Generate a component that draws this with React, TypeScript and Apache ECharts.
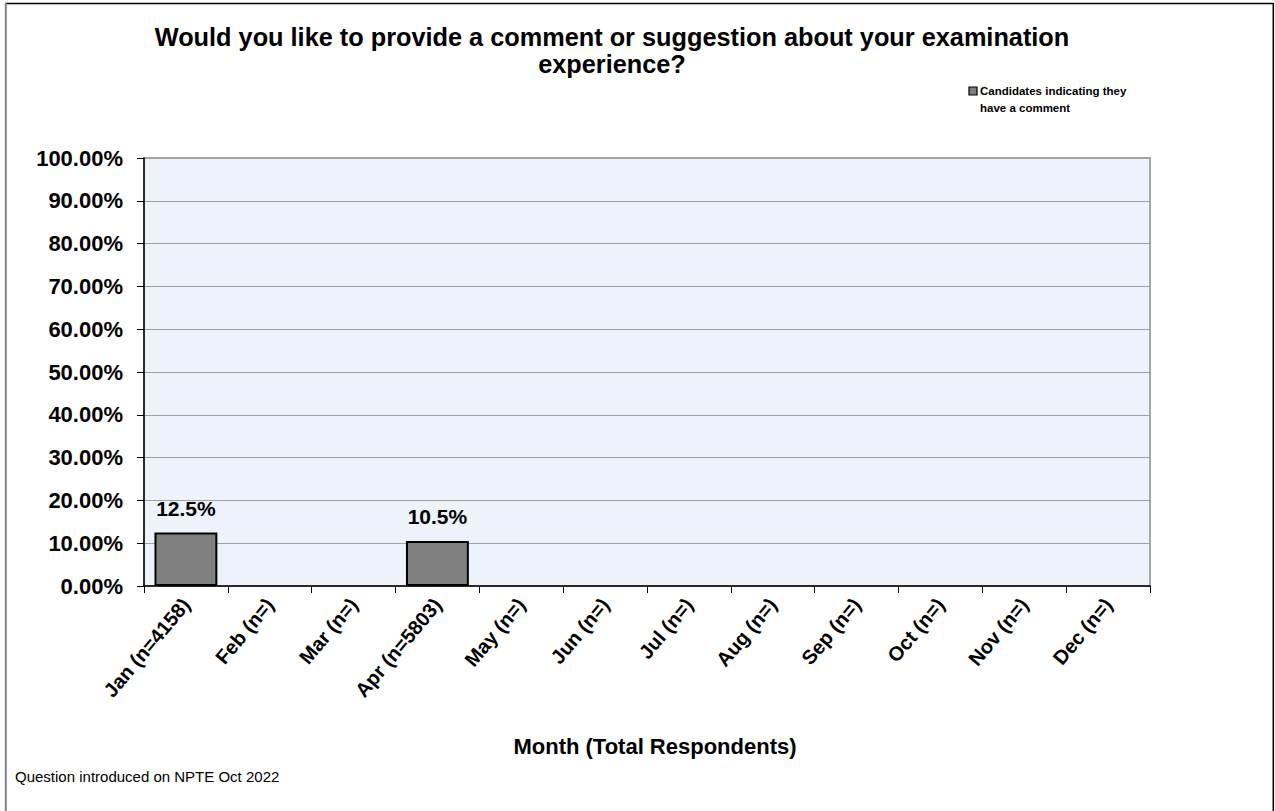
import React, { useEffect, useRef } from "react";
import * as echarts from "echarts";

const TITLE_LINES = [
  "Would you like to provide a comment or suggestion about your examination",
  "experience?",
];
const SERIES_NAME_LINES = ["Candidates indicating they", "have a comment"];
const CATEGORIES = [
  "Jan (n=4158)",
  "Feb (n=)",
  "Mar (n=)",
  "Apr (n=5803)",
  "May (n=)",
  "Jun (n=)",
  "Jul (n=)",
  "Aug (n=)",
  "Sep (n=)",
  "Oct (n=)",
  "Nov (n=)",
  "Dec (n=)",
];
const VALUES: (number | null)[] = [0.125, null, null, 0.105, null, null, null, null, null, null, null, null];
const Y_MIN = 0;
const Y_MAX = 1;
const Y_STEP = 0.1;
const X_AXIS_NAME = "Month (Total Respondents)";
const FOOTNOTE = "Question introduced on NPTE Oct 2022";

const FONT = "'Liberation Sans', Arial, Helvetica, sans-serif";

export default function App() {
  const ref = useRef<HTMLDivElement>(null);
  useEffect(() => {
    if (!ref.current) return;
    const chart = echarts.init(ref.current, undefined, { renderer: "svg" });
    chart.setOption({
      animation: false,
      backgroundColor: "#ffffff",
      textStyle: { fontFamily: FONT },
      grid: {
        left: 144,
        right: 125,
        top: 158,
        bottom: 225,
        show: true,
        backgroundColor: "#EEF2FA",
        borderColor: "#A6A6A6",
        borderWidth: 2,
      },
      xAxis: {
        type: "category",
        data: CATEGORIES,
        boundaryGap: true,
        name: X_AXIS_NAME,
        nameLocation: "middle",
        nameGap: 149,
        nameTextStyle: {
          fontFamily: FONT,
          fontWeight: "bold",
          fontSize: 22,
          color: "#000",
          padding: [0, 0, 0, 16],
        },
        axisLine: { show: true, lineStyle: { color: "#000", width: 1.5 } },
        axisTick: { show: true, length: 7, alignWithLabel: false, lineStyle: { color: "#000", width: 1 } },
        axisLabel: {
          rotate: 50,
          interval: 0,
          margin: 15,
          fontFamily: FONT,
          fontWeight: "bold",
          fontSize: 20,
          color: "#000",
        },
        splitLine: { show: false },
      },
      yAxis: {
        type: "value",
        min: Y_MIN,
        max: Y_MAX,
        interval: Y_STEP,
        axisLine: { show: true, lineStyle: { color: "#000", width: 1.5 } },
        axisTick: { show: true, length: 7, lineStyle: { color: "#000", width: 1 } },
        axisLabel: {
          margin: 21,
          fontFamily: FONT,
          fontWeight: "bold",
          fontSize: 22,
          color: "#000",
          formatter: (v: number) => (v * 100).toFixed(2) + "%",
        },
        splitLine: { show: true, lineStyle: { color: "#A0A0A0", width: 1 } },
      },
      series: [
        {
          type: "bar",
          name: SERIES_NAME_LINES.join(" "),
          data: VALUES,
          barWidth: "75%",
          itemStyle: { color: "#808080", borderColor: "#000", borderWidth: 2 },
          label: {
            show: true,
            position: "top",
            distance: 14,
            fontFamily: FONT,
            fontWeight: "bold",
            fontSize: 21,
            color: "#000",
            formatter: (p: any) => (p.value == null ? "" : (p.value * 100).toFixed(1) + "%"),
          },
        },
      ],
      graphic: [
        { type: "line", shape: { x1: 5, y1: 3.5, x2: 1273.5, y2: 3.5 }, style: { stroke: "#000", lineWidth: 1.3 } },
        { type: "line", shape: { x1: 5.8, y1: 3, x2: 5.8, y2: 811 }, style: { stroke: "#808080", lineWidth: 2 } },
        { type: "line", shape: { x1: 1273.3, y1: 3, x2: 1273.3, y2: 811 }, style: { stroke: "#000", lineWidth: 1.5 } },
        {
          type: "text",
          x: 612,
          y: 37,
          style: {
            text: TITLE_LINES[0],
            fontFamily: FONT,
            fontWeight: "bold",
            fontSize: 25.3,
            fill: "#000",
            textAlign: "center",
            textVerticalAlign: "middle",
          },
        },
        {
          type: "text",
          x: 612,
          y: 64,
          style: {
            text: TITLE_LINES[1],
            fontFamily: FONT,
            fontWeight: "bold",
            fontSize: 25.3,
            fill: "#000",
            textAlign: "center",
            textVerticalAlign: "middle",
          },
        },
        {
          type: "rect",
          shape: { x: 969, y: 87, width: 8, height: 8 },
          style: { fill: "#808080", stroke: "#000", lineWidth: 1.2 },
        },
        {
          type: "text",
          x: 980,
          y: 91,
          style: {
            text: SERIES_NAME_LINES[0],
            fontFamily: FONT,
            fontWeight: "bold",
            fontSize: 11.5,
            fill: "#000",
            textAlign: "left",
            textVerticalAlign: "middle",
          },
        },
        {
          type: "text",
          x: 980,
          y: 108,
          style: {
            text: SERIES_NAME_LINES[1],
            fontFamily: FONT,
            fontWeight: "bold",
            fontSize: 11.5,
            fill: "#000",
            textAlign: "left",
            textVerticalAlign: "middle",
          },
        },
        {
          type: "text",
          x: 15,
          y: 776,
          style: {
            text: FOOTNOTE,
            fontFamily: FONT,
            fontSize: 15,
            fill: "#000",
            textAlign: "left",
            textVerticalAlign: "middle",
          },
        },
      ],
    });
    return () => chart.dispose();
  }, []);
  return (
    <div
      ref={ref}
      style={{ position: "absolute", left: 0, top: 0, width: 1275, height: 811 }}
    />
  );
}
